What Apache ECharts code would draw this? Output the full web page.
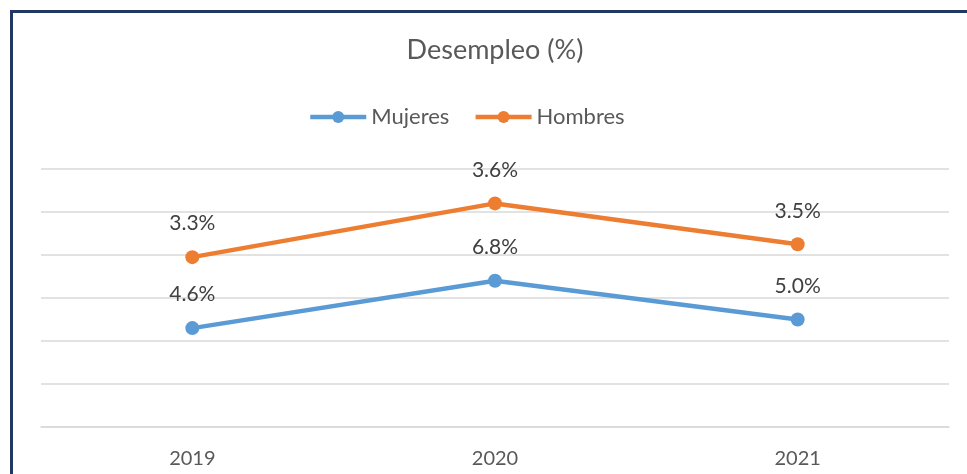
<!DOCTYPE html>
<html>
<head>
<meta charset="utf-8">
<script src="https://cdn.jsdelivr.net/npm/echarts@6/dist/echarts.min.js"></script>
<style>
  html, body { margin: 0; padding: 0; background: #fff; }
  #chart { width: 967px; height: 474px; position: relative; }
  #frame {
    position: absolute; left: 10px; top: 10px; right: 0; bottom: 0;
    border-left: 3px solid #203864; border-top: 3px solid #203864;
    pointer-events: none;
  }
</style>
</head>
<body>
<div style="position:relative;width:967px;height:474px;">
  <div id="chart"></div>
  <div id="frame"></div>
</div>
<script>
// data (stacked line: Hombres drawn on top of Mujeres)
const years = ['2019', '2020', '2021'];
const mujeres = [4.6, 6.8, 5.0];
const hombres = [3.3, 3.6, 3.5];

const FONT = 'Lato';
const chart = echarts.init(document.getElementById('chart'), null, { renderer: 'canvas' });

function makeSeries(name, data, color) {
  return {
    name: name,
    type: 'line',
    stack: 'total',
    data: data,
    symbol: 'circle',
    symbolSize: 14,
    lineStyle: { width: 4.5, color: color },
    itemStyle: { color: color },
    label: {
      show: true,
      position: 'top',
      distance: 16,
      fontFamily: FONT,
      fontSize: 21,
      color: '#404040',
      formatter: p => p.value.toFixed(1) + '%'
    },
    emphasis: { disabled: true }
  };
}

const option = {
  animation: false,
  title: {
    text: 'Desempleo (%)',
    left: 490,
    textAlign: 'center',
    top: 32,
    textStyle: { fontFamily: FONT, fontSize: 27, fontWeight: 'normal', color: '#595959' }
  },
  legend: {
    top: 101,
    left: 303,
    itemWidth: 56,
    itemHeight: 15,
    itemGap: 24,
    lineStyle: { width: 4.5 },
    textStyle: { fontFamily: FONT, fontSize: 22, color: '#595959' },
    data: ['Mujeres', 'Hombres']
  },
  grid: { left: 41, right: 18, top: 169, bottom: 47, containLabel: false },
  xAxis: {
    type: 'category',
    data: years,
    boundaryGap: true,
    axisLine: { lineStyle: { color: '#d9d9d9', width: 1.5 } },
    axisTick: { show: false },
    axisLabel: { fontFamily: FONT, fontSize: 20, color: '#595959', margin: 22 }
  },
  yAxis: {
    type: 'value',
    min: 0,
    max: 12,
    interval: 2,
    axisLabel: { show: false },
    axisLine: { show: false },
    axisTick: { show: false },
    splitLine: { lineStyle: { color: '#d9d9d9', width: 1.5 } }
  },
  series: [
    makeSeries('Mujeres', mujeres, '#5b9bd5'),
    makeSeries('Hombres', hombres, '#ed7d31')
  ]
};
chart.setOption(option);
</script>
</body>
</html>
